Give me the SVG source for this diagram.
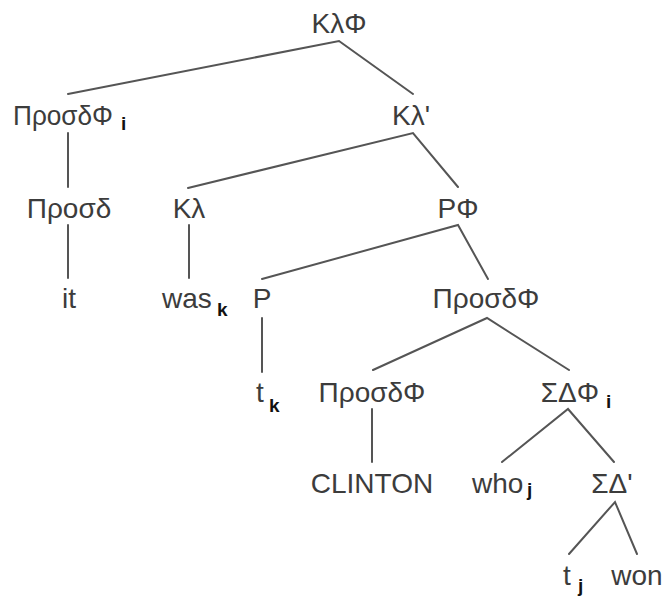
<svg xmlns="http://www.w3.org/2000/svg" width="665" height="598" viewBox="0 0 665 598">
  <style>
    .lbl { font-family: "Liberation Sans", Arial, sans-serif; font-size: 28px; fill: #3c3c3c; }
    .mid { text-anchor: middle; }
    .sub { font-family: "Liberation Sans", Arial, sans-serif; font-size: 19px; font-weight: bold; fill: #111; }
    .edge { stroke: #555; stroke-width: 2; fill: none; stroke-linecap: round; }
  </style>
  <rect width="665" height="598" fill="#fff"/>

  <!-- tree branches -->
  <g id="connectors">
    <polyline class="edge" points="68,94 339,41 413,94"/>
    <line class="edge" x1="68" y1="133" x2="68" y2="187"/>
    <polyline class="edge" points="188,188 413,133 458,187"/>
    <line class="edge" x1="68" y1="225" x2="68" y2="278"/>
    <line class="edge" x1="189" y1="225" x2="189" y2="278"/>
    <polyline class="edge" points="262,279 458,225 488,279"/>
    <line class="edge" x1="262" y1="318" x2="262" y2="372"/>
    <polyline class="edge" points="373,370 487,318 569,370"/>
    <line class="edge" x1="372" y1="409" x2="372" y2="462"/>
    <polyline class="edge" points="502,462 568,409 614,462"/>
    <polyline class="edge" points="569,554 615,502 637,554"/>
  </g>

  <!-- node labels -->
  <g id="n-klph"><text class="lbl mid" x="339" y="33">ΚλΦ</text></g>
  <g id="n-prosdph-i"><text class="lbl" x="13" y="125" textLength="100" lengthAdjust="spacingAndGlyphs">ΠροσδΦ</text><text class="sub" x="121" y="130">i</text></g>
  <g id="n-kl-bar"><text class="lbl mid" x="411" y="125">Κλ'</text></g>
  <g id="n-prosd"><text class="lbl mid" x="69" y="218">Προσδ</text></g>
  <g id="n-kl"><text class="lbl mid" x="189" y="218">Κλ</text></g>
  <g id="n-rph"><text class="lbl mid" x="458" y="218">ΡΦ</text></g>
  <g id="n-it"><text class="lbl mid" x="69" y="308">it</text></g>
  <g id="n-was"><text class="lbl" x="162" y="308">was</text><text class="sub" x="217" y="316">k</text></g>
  <g id="n-r"><text class="lbl mid" x="262" y="308">Ρ</text></g>
  <g id="n-prosdph-1"><text class="lbl mid" x="486" y="308">ΠροσδΦ</text></g>
  <g id="n-tk"><text class="lbl" x="256" y="402">t</text><text class="sub" x="269" y="412">k</text></g>
  <g id="n-prosdph-2"><text class="lbl mid" x="372" y="402">ΠροσδΦ</text></g>
  <g id="n-sdph"><text class="lbl mid" x="570" y="402">ΣΔΦ</text><text class="sub" x="606" y="408">i</text></g>
  <g id="n-clinton"><text class="lbl mid" x="372" y="493">CLINTON</text></g>
  <g id="n-who"><text class="lbl" x="472" y="493">who</text><text class="sub" x="527" y="496">j</text></g>
  <g id="n-sd-bar"><text class="lbl mid" x="612" y="493">ΣΔ'</text></g>
  <g id="n-tj"><text class="lbl" x="563" y="585">t</text><text class="sub" x="578" y="592">j</text></g>
  <g id="n-won"><text class="lbl mid" x="637" y="585">won</text></g>
</svg>
